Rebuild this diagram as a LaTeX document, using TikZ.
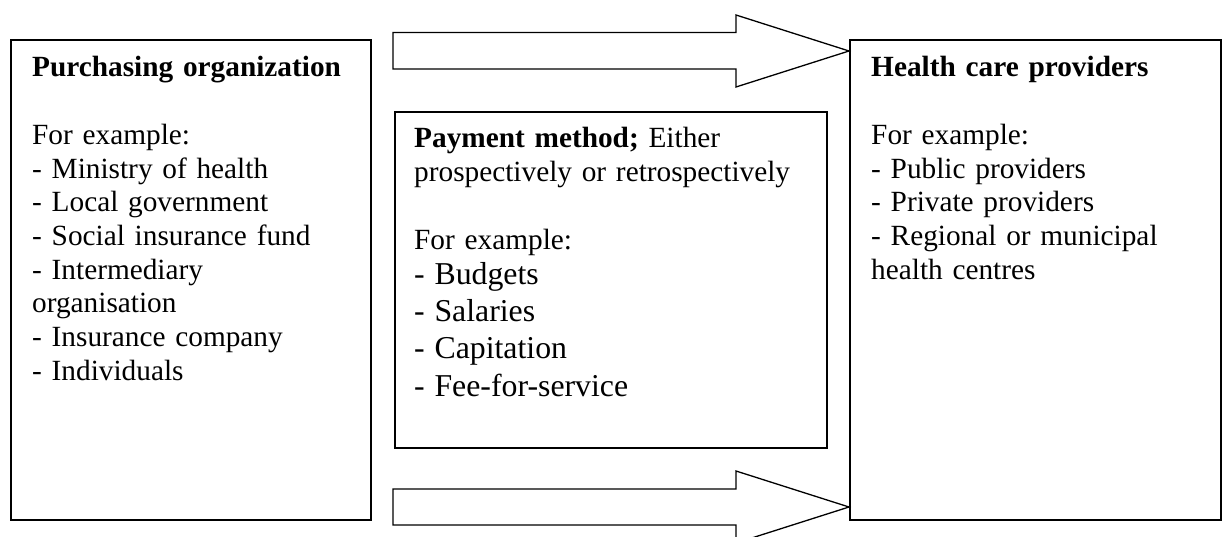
\documentclass[tikz,border=0pt]{standalone}
\usepackage{fontspec}
\setmainfont{Liberation Serif}
\begin{document}
\begin{tikzpicture}[x=1pt,y=-1pt,
  panel/.style={draw, line width=1.6pt, inner sep=0pt, anchor=north west},
  blockarrow/.style={draw, line width=1.3pt, fill=white, line join=miter},
  paneltext/.style={anchor=base west, inner sep=0pt, align=left,
    font=\fontsize{29.3}{33.7}\selectfont}
]
\clip (0,0) rectangle (1222,537);

% three panels
\node[panel, minimum width=360pt, minimum height=480pt] (buyer) at (10,39) {};
\node[panel, minimum width=432pt, minimum height=336pt] (payment) at (394,111) {};
\node[panel, minimum width=371pt, minimum height=480pt] (provider) at (849,39) {};

% block arrows running from the payer side to the providers
\coordinate (tiptop) at (provider.west |- 0,51);
\coordinate (tipbottom) at (provider.west |- 0,507);
\draw[blockarrow] (393,32.5) -- (736,32.5) -- (736,15) -- (tiptop)
  -- (736,87) -- (736,69) -- (393,69) -- cycle;
\draw[blockarrow] (393,489) -- (736,489) -- (736,471) -- (tipbottom)
  -- (736,543) -- (736,525) -- (393,525) -- cycle;

% panel texts
\node[paneltext, text width=335pt] (buyertext) at (32,77)
  {\textbf{Purchasing organization}\\[\baselineskip]
   For example:\\
   - Ministry of health\\
   - Local government\\
   - Social insurance fund\\
   - Intermediary\\
   organisation\\
   - Insurance company\\
   - Individuals};

\node[paneltext, text width=410pt] (paymenttext) at (414,148)
  {\textbf{Payment method;} Either\\
   prospectively or retrospectively\\[\baselineskip]
   For example:\par\vspace{-2pt}
   \fontsize{31.8}{37.3}\selectfont
   - Budgets\\
   - Salaries\\
   - Capitation\\
   - Fee-for-service\par};

\node[paneltext, text width=345pt] (providertext) at (871,77)
  {\textbf{Health care providers}\\[\baselineskip]
   For example:\\
   - Public providers\\
   - Private providers\\
   - Regional or municipal\\
   health centres};
\end{tikzpicture}
\end{document}
